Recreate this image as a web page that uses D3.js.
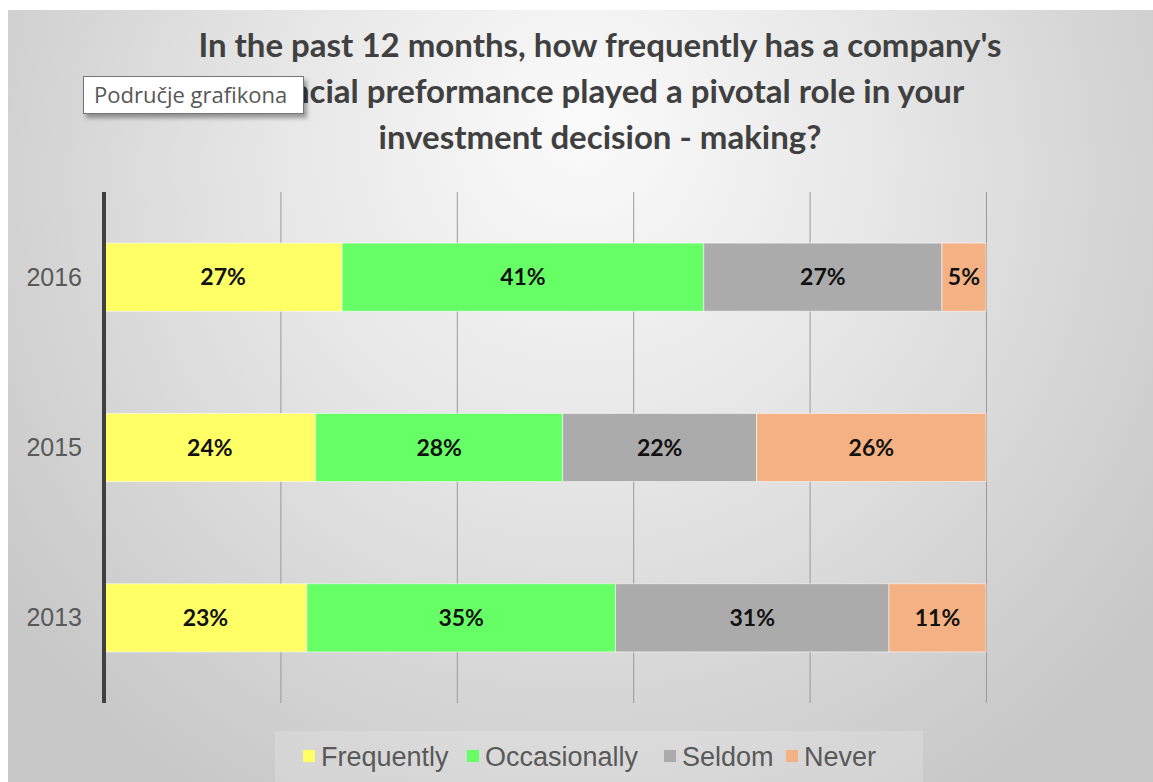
<!DOCTYPE html>
<html>
<head>
<meta charset="utf-8">
<script src="https://cdn.jsdelivr.net/npm/d3@7"></script>
<style>
  html, body { margin: 0; padding: 0; background: #ffffff; }
  svg { display: block; }
</style>
</head>
<body>
<svg id="chart" width="1153" height="782"></svg>
<script>
// ---- data ----
const years = ["2016", "2015", "2013"];
const seriesNames = ["Frequently", "Occasionally", "Seldom", "Never"];
const frequently   = [27, 24, 23];
const occasionally = [41, 28, 35];
const seldom       = [27, 22, 31];
const never        = [5, 26, 11];
const xTicks = [0, 20, 40, 60, 80, 100];
const titleLines = [
  "In the past 12 months, how frequently has a company's",
  "financial preformance played a pivotal role in your",
  "investment decision - making?"
];
const tooltipText = "Područje grafikona";
const colors = ["#FFFF66", "#66FF66", "#ABABAB", "#F4B183"];

// ---- build table ----
const seriesValues = [frequently, occasionally, seldom, never];
const rows = years.map((y, i) => {
  const r = { year: y };
  seriesNames.forEach((s, j) => r[s] = seriesValues[j][i]);
  return r;
});
const stacked = d3.stack().keys(seriesNames)(rows);

const svg = d3.select("#chart");
const W = 1153, H = 782;

// background gradient
const defs = svg.append("defs");
const rg = defs.append("radialGradient").attr("id", "bg")
  .attr("gradientUnits", "userSpaceOnUse")
  .attr("cx", 580).attr("cy", 200).attr("r", 700)
  .attr("fx", 580).attr("fy", 120);
rg.append("stop").attr("offset", "0%").attr("stop-color", "#fbfbfb");
rg.append("stop").attr("offset", "45%").attr("stop-color", "#e6e6e6");
rg.append("stop").attr("offset", "100%").attr("stop-color", "#c8c8c8");

const shadow = defs.append("filter").attr("id", "shadow")
  .attr("x", "-10%").attr("y", "-20%").attr("width", "130%").attr("height", "160%");
shadow.append("feDropShadow").attr("dx", 3).attr("dy", 4).attr("stdDeviation", 2)
  .attr("flood-color", "#000").attr("flood-opacity", 0.35);

svg.append("rect").attr("x", 8).attr("y", 10).attr("width", W - 8).attr("height", H - 10)
  .attr("fill", "url(#bg)");

// scales
const x = d3.scaleLinear().domain([0, 100]).range([104, 986]);
const y = d3.scaleBand().domain(years).range([192, 703]).paddingInner(0.6).paddingOuter(0.3);

// gridlines
const grid = svg.append("g")
  .attr("transform", "translate(0,192)")
  .call(d3.axisBottom(x).tickValues(xTicks).tickSize(511).tickFormat(""));
grid.select(".domain").remove();
grid.selectAll(".tick line").attr("stroke", "#9a9a9a").attr("stroke-width", 1);

// bars
const layer = svg.append("g").selectAll("g").data(stacked).join("g")
  .attr("fill", (d, i) => colors[i]);
layer.selectAll("rect").data(d => d).join("rect")
  .attr("x", d => x(d[0]))
  .attr("y", d => y(d.data.year))
  .attr("width", d => x(d[1]) - x(d[0]))
  .attr("height", y.bandwidth())
  .attr("stroke", "rgba(255,255,255,0.55)")
  .attr("stroke-width", 1);

// data labels
const labelG = svg.append("g");
stacked.forEach(s => {
  s.forEach(d => {
    labelG.append("text")
      .attr("x", (x(d[0]) + x(d[1])) / 2)
      .attr("y", y(d.data.year) + y.bandwidth() / 2)
      .attr("dy", "0.36em")
      .attr("text-anchor", "middle")
      .attr("font-family", "Lato, 'Open Sans', sans-serif")
      .attr("font-weight", 700)
      .attr("font-size", 23)
      .attr("fill", "#111")
      .text((d[1] - d[0]) + "%");
  });
});

// y axis (categories)
const yAxis = svg.append("g").attr("transform", "translate(104,0)")
  .call(d3.axisLeft(y).tickSize(0).tickPadding(22));
yAxis.select(".domain").remove();
yAxis.selectAll("text")
  .attr("dy", "0.34em")
  .attr("font-family", "'Liberation Sans', Arial, sans-serif")
  .attr("font-size", 25).attr("fill", "#595959");
svg.append("line").attr("x1", 104).attr("x2", 104).attr("y1", 192).attr("y2", 703)
  .attr("stroke", "#404040").attr("stroke-width", 4);

// title
const title = svg.append("g");
titleLines.forEach((t, i) => {
  title.append("text")
    .attr("x", 600).attr("y", 57 + i * 46)
    .attr("text-anchor", "middle")
    .attr("font-family", "Lato, 'Open Sans', sans-serif")
    .attr("font-weight", 700)
    .attr("font-size", 33)
    .attr("fill", "#404040")
    .text(t);
});

// legend
const legendItems = [
  { name: seriesNames[0], color: colors[0], x: 303 },
  { name: seriesNames[1], color: colors[1], x: 467 },
  { name: seriesNames[2], color: colors[2], x: 664 },
  { name: seriesNames[3], color: colors[3], x: 786 }
];
svg.append("rect").attr("x", 275).attr("y", 731).attr("width", 648).attr("height", 51)
  .attr("fill", "#ffffff").attr("opacity", 0.18);
const lg = svg.append("g").selectAll("g").data(legendItems).join("g")
  .attr("transform", d => `translate(${d.x},756)`);
lg.append("rect").attr("x", 0).attr("y", -6).attr("width", 12).attr("height", 12)
  .attr("fill", d => d.color);
lg.append("text").attr("x", 18).attr("dy", "0.36em")
  .attr("font-family", "'Liberation Sans', Arial, sans-serif")
  .attr("font-size", 27).attr("fill", "#595959")
  .text(d => d.name);

// tooltip box
const tip = svg.append("g");
tip.append("rect").attr("x", 83.5).attr("y", 76.5).attr("width", 220).attr("height", 37)
  .attr("fill", "#ffffff").attr("stroke", "#767676").attr("stroke-width", 1)
  .attr("filter", "url(#shadow)");
tip.append("text").attr("x", 94).attr("y", 103)
  .attr("font-family", "'Open Sans', 'Noto Sans', sans-serif")
  .attr("font-size", 22).attr("fill", "#575757")
  .text(tooltipText);
</script>
</body>
</html>
